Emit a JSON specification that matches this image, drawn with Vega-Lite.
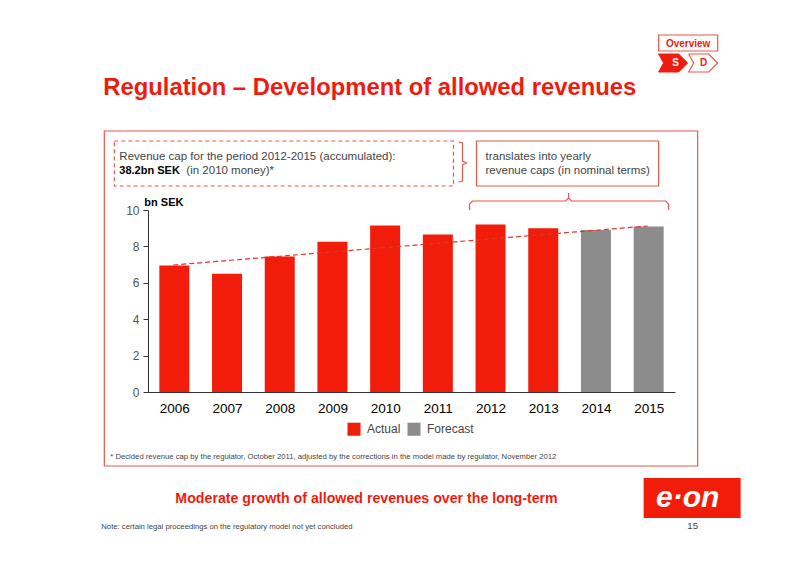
{
  "$schema": "https://vega.github.io/schema/vega-lite/v5.json",
  "width": 527,
  "height": 182,
  "autosize": "none",
  "padding": {"left": 148, "top": 210, "right": 125, "bottom": 173},
  "background": "white",
  "config": {"font": "Liberation Sans", "view": {"stroke": null}},
  "encoding": {
    "x": {
      "field": "year",
      "type": "quantitative",
      "scale": {"domain": [2005.5, 2015.5], "nice": false, "padding": 0},
      "axis": {
        "title": null,
        "values": [2006, 2007, 2008, 2009, 2010, 2011, 2012, 2013, 2014, 2015],
        "format": "d",
        "grid": false,
        "ticks": false,
        "labelFontSize": 13.5,
        "labelColor": "black",
        "labelPadding": 9,
        "labelFlush": false,
        "domainColor": "#333333"
      }
    },
    "y": {
      "field": "value",
      "type": "quantitative",
      "scale": {"domain": [0, 10], "nice": false},
      "axis": {
        "title": null,
        "values": [0, 2, 4, 6, 8, 10],
        "grid": false,
        "tickSize": 5,
        "tickColor": "#333333",
        "labelFontSize": 12,
        "labelColor": "#555555",
        "labelPadding": 4,
        "domainColor": "#333333"
      }
    }
  },
  "layer": [
    {
      "data": {"values": [
        {"year": 2004.671, "end": 2015.93, "value": 14.341, "bottom": -4.066},
        {"year": 2011.734, "end": 2015.189, "value": 13.791, "bottom": 11.319},
        {"year": 2015.189, "end": 2016.31, "value": 19.615, "bottom": 18.736}
      ]},
      "mark": {"type": "rect", "fill": null, "stroke": "#e8584f", "strokeWidth": 1.2},
      "encoding": {"x2": {"field": "end"}, "y2": {"field": "bottom"}}
    },
    {
      "data": {"values": [
        {"year": 2004.861, "end": 2011.297, "value": 13.791, "bottom": 11.319}
      ]},
      "mark": {"type": "rect", "fill": null, "stroke": "#e8584f", "strokeWidth": 1.2, "strokeDash": [4, 3]},
      "encoding": {"x2": {"field": "end"}, "y2": {"field": "bottom"}}
    },
    {
      "data": {"values": [
        {"year": 2006, "value": 6.95, "type": "Actual"},
        {"year": 2007, "value": 6.5, "type": "Actual"},
        {"year": 2008, "value": 7.45, "type": "Actual"},
        {"year": 2009, "value": 8.25, "type": "Actual"},
        {"year": 2010, "value": 9.15, "type": "Actual"},
        {"year": 2011, "value": 8.65, "type": "Actual"},
        {"year": 2012, "value": 9.2, "type": "Actual"},
        {"year": 2013, "value": 9.0, "type": "Actual"},
        {"year": 2014, "value": 8.9, "type": "Forecast"},
        {"year": 2015, "value": 9.1, "type": "Forecast"}
      ]},
      "mark": {"type": "bar", "size": 30},
      "encoding": {
        "color": {
          "field": "type",
          "type": "nominal",
          "scale": {"domain": ["Actual", "Forecast"], "range": ["#f21c0a", "#8c8c8c"]},
          "legend": {
            "title": null,
            "orient": "none",
            "legendX": 199,
            "legendY": 212,
            "direction": "horizontal",
            "symbolType": "square",
            "symbolSize": 170,
            "symbolStrokeWidth": 0,
            "labelFontSize": 12,
            "labelColor": "#444444",
            "labelOffset": 6,
            "columnPadding": 6
          }
        }
      }
    },
    {
      "data": {"values": [
        {"year": 2005.98, "value": 6.978},
        {"year": 2014.98, "value": 9.121}
      ]},
      "mark": {"type": "line", "color": "#e2352a", "strokeWidth": 1.2, "strokeDash": [5, 3]}
    },
    {
      "data": {"values": [
        {"part": "cap", "seq": 0, "year": 2011.392, "value": 13.736},
        {"part": "cap", "seq": 1, "year": 2011.468, "value": 13.681},
        {"part": "cap", "seq": 2, "year": 2011.468, "value": 12.692},
        {"part": "cap", "seq": 3, "year": 2011.544, "value": 12.582},
        {"part": "cap", "seq": 4, "year": 2011.468, "value": 12.473},
        {"part": "cap", "seq": 5, "year": 2011.468, "value": 11.593},
        {"part": "cap", "seq": 6, "year": 2011.392, "value": 11.538},
        {"part": "years", "seq": 0, "year": 2011.601, "value": 10.0},
        {"part": "years", "seq": 1, "year": 2011.601, "value": 10.33},
        {"part": "years", "seq": 2, "year": 2011.658, "value": 10.495},
        {"part": "years", "seq": 3, "year": 2013.424, "value": 10.495},
        {"part": "years", "seq": 4, "year": 2013.481, "value": 10.659},
        {"part": "years", "seq": 5, "year": 2013.481, "value": 10.934},
        {"part": "years", "seq": 6, "year": 2013.481, "value": 10.659},
        {"part": "years", "seq": 7, "year": 2013.538, "value": 10.495},
        {"part": "years", "seq": 8, "year": 2015.322, "value": 10.495},
        {"part": "years", "seq": 9, "year": 2015.379, "value": 10.33},
        {"part": "years", "seq": 10, "year": 2015.379, "value": 10.0}
      ]},
      "mark": {"type": "line", "color": "#e8584f", "strokeWidth": 1.2},
      "encoding": {"detail": {"field": "part"}, "order": {"field": "seq"}}
    },
    {
      "data": {"values": [
        {"seq": 0, "year": 2015.189, "value": 18.571},
        {"seq": 1, "year": 2015.569, "value": 18.571},
        {"seq": 2, "year": 2015.74, "value": 18.077},
        {"seq": 3, "year": 2015.569, "value": 17.582},
        {"seq": 4, "year": 2015.189, "value": 17.582},
        {"seq": 5, "year": 2015.284, "value": 18.077},
        {"seq": 6, "year": 2015.189, "value": 18.571}
      ]},
      "mark": {"type": "line", "color": "#ee1c0e", "fill": "#ee1c0e", "strokeWidth": 1},
      "encoding": {"order": {"field": "seq"}}
    },
    {
      "data": {"values": [
        {"seq": 0, "year": 2015.759, "value": 18.571},
        {"seq": 1, "year": 2016.139, "value": 18.571},
        {"seq": 2, "year": 2016.31, "value": 18.077},
        {"seq": 3, "year": 2016.139, "value": 17.582},
        {"seq": 4, "year": 2015.759, "value": 17.582},
        {"seq": 5, "year": 2015.854, "value": 18.077},
        {"seq": 6, "year": 2015.759, "value": 18.571}
      ]},
      "mark": {"type": "line", "color": "#e8584f", "strokeWidth": 1.2},
      "encoding": {"order": {"field": "seq"}}
    },
    {
      "data": {"values": [
        {"year": 2014.905, "end": 2016.746, "value": -4.725, "bottom": -6.923}
      ]},
      "mark": {"type": "rect", "fill": "#f21c0a"},
      "encoding": {"x2": {"field": "end"}, "y2": {"field": "bottom"}}
    },
    {
      "data": {"values": [
        {"year": 2004.652, "value": 16.703, "label": "Regulation – Development of allowed revenues"}
      ]},
      "mark": {"type": "text", "align": "left", "baseline": "middle", "fontSize": 23.8, "fontWeight": "bold", "color": "#ee1c0e"},
      "encoding": {"text": {"field": "label"}}
    },
    {
      "data": {"values": [
        {"year": 2004.956, "value": 12.912, "label": "Revenue cap for the period 2012-2015 (accumulated):"},
        {"year": 2006.228, "value": 12.143, "label": "(in 2010 money)*"},
        {"year": 2011.905, "value": 12.912, "label": "translates into yearly"},
        {"year": 2011.905, "value": 12.143, "label": "revenue caps (in nominal terms)"}
      ]},
      "mark": {"type": "text", "align": "left", "baseline": "middle", "fontSize": 11.5, "color": "#444444"},
      "encoding": {"text": {"field": "label"}}
    },
    {
      "data": {"values": [
        {"year": 2004.956, "value": 12.143, "label": "38.2bn SEK"},
        {"year": 2005.43, "value": 10.385, "label": "bn SEK"}
      ]},
      "mark": {"type": "text", "align": "left", "baseline": "middle", "fontSize": 11, "fontWeight": "bold", "color": "black"},
      "encoding": {"text": {"field": "label"}}
    },
    {
      "data": {"values": [
        {"year": 2004.785, "value": -3.571, "label": "* Decided revenue cap by the regulator, October 2011, adjusted by the corrections in the model made by regulator, November 2012"},
        {"year": 2004.614, "value": -7.418, "label": "Note: certain legal proceedings on the regulatory model not yet concluded"}
      ]},
      "mark": {"type": "text", "align": "left", "baseline": "middle", "fontSize": 7.7, "color": "#444444"},
      "encoding": {"text": {"field": "label"}}
    },
    {
      "data": {"values": [
        {"year": 2015.835, "value": -7.363, "label": "15"}
      ]},
      "mark": {"type": "text", "align": "center", "baseline": "middle", "fontSize": 9.5, "color": "#444444"},
      "encoding": {"text": {"field": "label"}}
    },
    {
      "data": {"values": [
        {"year": 2006.019, "value": -5.879, "label": "Moderate growth of allowed revenues over the long-term"}
      ]},
      "mark": {"type": "text", "align": "left", "baseline": "middle", "fontSize": 14.2, "fontWeight": "bold", "color": "#ee1c0e"},
      "encoding": {"text": {"field": "label"}}
    },
    {
      "data": {"values": [
        {"year": 2015.749, "value": 19.148, "label": "Overview"},
        {"year": 2016.044, "value": 18.077, "label": "D"}
      ]},
      "mark": {"type": "text", "align": "center", "baseline": "middle", "fontSize": 10, "fontWeight": "bold", "color": "#ee1c0e"},
      "encoding": {"text": {"field": "label"}}
    },
    {
      "data": {"values": [
        {"year": 2015.512, "value": 18.077, "label": "S"}
      ]},
      "mark": {"type": "text", "align": "center", "baseline": "middle", "fontSize": 10, "fontWeight": "bold", "color": "white"},
      "encoding": {"text": {"field": "label"}}
    },
    {
      "data": {"values": [
        {"year": 2015.74, "value": -5.824, "label": "e·on"}
      ]},
      "mark": {"type": "text", "align": "center", "baseline": "middle", "fontSize": 30, "fontWeight": "bold", "fontStyle": "italic", "color": "white"},
      "encoding": {"text": {"field": "label"}}
    }
  ]
}
